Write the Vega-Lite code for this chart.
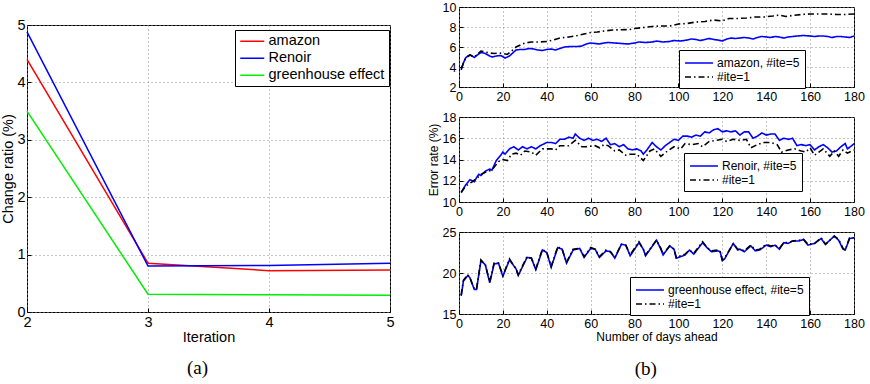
{
"$schema":"https://vega.github.io/schema/vega-lite/v6.json",
"padding":{"left":0,"top":0,"right":0,"bottom":0},
"spacing":31,
"datasets":{
"ratio":[
{"series":"amazon","iter":2,"value":4.4},{"series":"amazon","iter":3,"value":0.85},{"series":"amazon","iter":4,"value":0.72},{"series":"amazon","iter":5,"value":0.73},
{"series":"Renoir","iter":2,"value":4.88},{"series":"Renoir","iter":3,"value":0.8},{"series":"Renoir","iter":4,"value":0.81},{"series":"Renoir","iter":5,"value":0.85},
{"series":"greenhouse effect","iter":2,"value":3.5},{"series":"greenhouse effect","iter":3,"value":0.31},{"series":"greenhouse effect","iter":4,"value":0.3},{"series":"greenhouse effect","iter":5,"value":0.29}
],
"amazon":[
{"series":"amazon, #ite=5","day":1,"value":3.7},{"series":"amazon, #ite=5","day":2,"value":4.4},{"series":"amazon, #ite=5","day":3,"value":4.9},{"series":"amazon, #ite=5","day":4,"value":5.1},{"series":"amazon, #ite=5","day":5,"value":5.2},{"series":"amazon, #ite=5","day":6,"value":5.1},{"series":"amazon, #ite=5","day":7,"value":4.95},{"series":"amazon, #ite=5","day":8,"value":5.15},{"series":"amazon, #ite=5","day":10,"value":5.45},{"series":"amazon, #ite=5","day":12,"value":5.35},{"series":"amazon, #ite=5","day":14,"value":5.1},{"series":"amazon, #ite=5","day":15,"value":5.0},{"series":"amazon, #ite=5","day":17,"value":5.1},{"series":"amazon, #ite=5","day":19,"value":5.15},{"series":"amazon, #ite=5","day":21,"value":4.9},{"series":"amazon, #ite=5","day":23,"value":5.1},{"series":"amazon, #ite=5","day":25,"value":5.5},{"series":"amazon, #ite=5","day":26,"value":5.7},{"series":"amazon, #ite=5","day":28,"value":5.75},{"series":"amazon, #ite=5","day":30,"value":5.75},{"series":"amazon, #ite=5","day":32,"value":5.85},{"series":"amazon, #ite=5","day":34,"value":5.8},{"series":"amazon, #ite=5","day":36,"value":5.7},{"series":"amazon, #ite=5","day":38,"value":5.65},{"series":"amazon, #ite=5","day":40,"value":5.75},{"series":"amazon, #ite=5","day":42,"value":5.8},{"series":"amazon, #ite=5","day":44,"value":5.7},{"series":"amazon, #ite=5","day":46,"value":5.85},{"series":"amazon, #ite=5","day":48,"value":6.0},{"series":"amazon, #ite=5","day":51,"value":6.05},{"series":"amazon, #ite=5","day":54,"value":6.05},{"series":"amazon, #ite=5","day":56,"value":6.1},{"series":"amazon, #ite=5","day":58,"value":6.3},{"series":"amazon, #ite=5","day":60,"value":6.4},{"series":"amazon, #ite=5","day":62,"value":6.35},{"series":"amazon, #ite=5","day":64,"value":6.3},{"series":"amazon, #ite=5","day":66,"value":6.4},{"series":"amazon, #ite=5","day":68,"value":6.45},{"series":"amazon, #ite=5","day":71,"value":6.4},{"series":"amazon, #ite=5","day":74,"value":6.35},{"series":"amazon, #ite=5","day":77,"value":6.3},{"series":"amazon, #ite=5","day":80,"value":6.4},{"series":"amazon, #ite=5","day":82,"value":6.5},{"series":"amazon, #ite=5","day":85,"value":6.45},{"series":"amazon, #ite=5","day":88,"value":6.5},{"series":"amazon, #ite=5","day":90,"value":6.6},{"series":"amazon, #ite=5","day":93,"value":6.5},{"series":"amazon, #ite=5","day":96,"value":6.55},{"series":"amazon, #ite=5","day":98,"value":6.65},{"series":"amazon, #ite=5","day":101,"value":6.6},{"series":"amazon, #ite=5","day":104,"value":6.7},{"series":"amazon, #ite=5","day":106,"value":6.8},{"series":"amazon, #ite=5","day":108,"value":6.75},{"series":"amazon, #ite=5","day":110,"value":6.65},{"series":"amazon, #ite=5","day":112,"value":6.75},{"series":"amazon, #ite=5","day":114,"value":6.85},{"series":"amazon, #ite=5","day":116,"value":6.75},{"series":"amazon, #ite=5","day":118,"value":6.7},{"series":"amazon, #ite=5","day":120,"value":6.6},{"series":"amazon, #ite=5","day":122,"value":6.8},{"series":"amazon, #ite=5","day":124,"value":6.9},{"series":"amazon, #ite=5","day":126,"value":6.85},{"series":"amazon, #ite=5","day":128,"value":6.9},{"series":"amazon, #ite=5","day":130,"value":6.95},{"series":"amazon, #ite=5","day":132,"value":6.9},{"series":"amazon, #ite=5","day":134,"value":6.8},{"series":"amazon, #ite=5","day":136,"value":6.95},{"series":"amazon, #ite=5","day":138,"value":7.05},{"series":"amazon, #ite=5","day":140,"value":7.0},{"series":"amazon, #ite=5","day":142,"value":6.95},{"series":"amazon, #ite=5","day":144,"value":7.05},{"series":"amazon, #ite=5","day":146,"value":7.0},{"series":"amazon, #ite=5","day":148,"value":6.9},{"series":"amazon, #ite=5","day":150,"value":7.0},{"series":"amazon, #ite=5","day":152,"value":7.05},{"series":"amazon, #ite=5","day":154,"value":7.1},{"series":"amazon, #ite=5","day":157,"value":7.15},{"series":"amazon, #ite=5","day":160,"value":7.1},{"series":"amazon, #ite=5","day":162,"value":7.05},{"series":"amazon, #ite=5","day":164,"value":7.1},{"series":"amazon, #ite=5","day":166,"value":7.1},{"series":"amazon, #ite=5","day":168,"value":7.05},{"series":"amazon, #ite=5","day":170,"value":6.95},{"series":"amazon, #ite=5","day":172,"value":7.05},{"series":"amazon, #ite=5","day":174,"value":7.05},{"series":"amazon, #ite=5","day":176,"value":7.0},{"series":"amazon, #ite=5","day":178,"value":6.95},{"series":"amazon, #ite=5","day":180,"value":7.1},
{"series":"#ite=1","day":1,"value":3.85},{"series":"#ite=1","day":3,"value":4.9},{"series":"#ite=1","day":5,"value":5.2},{"series":"#ite=1","day":7,"value":5.0},{"series":"#ite=1","day":9,"value":5.4},{"series":"#ite=1","day":10,"value":5.6},{"series":"#ite=1","day":12,"value":5.5},{"series":"#ite=1","day":14,"value":5.4},{"series":"#ite=1","day":16,"value":5.35},{"series":"#ite=1","day":18,"value":5.4},{"series":"#ite=1","day":20,"value":5.35},{"series":"#ite=1","day":22,"value":5.25},{"series":"#ite=1","day":24,"value":5.6},{"series":"#ite=1","day":26,"value":6.0},{"series":"#ite=1","day":28,"value":6.2},{"series":"#ite=1","day":30,"value":6.4},{"series":"#ite=1","day":33,"value":6.5},{"series":"#ite=1","day":36,"value":6.5},{"series":"#ite=1","day":40,"value":6.55},{"series":"#ite=1","day":43,"value":6.7},{"series":"#ite=1","day":46,"value":6.9},{"series":"#ite=1","day":50,"value":7.0},{"series":"#ite=1","day":54,"value":7.15},{"series":"#ite=1","day":57,"value":7.3},{"series":"#ite=1","day":60,"value":7.45},{"series":"#ite=1","day":63,"value":7.5},{"series":"#ite=1","day":66,"value":7.6},{"series":"#ite=1","day":70,"value":7.7},{"series":"#ite=1","day":74,"value":7.72},{"series":"#ite=1","day":78,"value":7.75},{"series":"#ite=1","day":80,"value":7.85},{"series":"#ite=1","day":84,"value":7.95},{"series":"#ite=1","day":88,"value":8.05},{"series":"#ite=1","day":92,"value":8.1},{"series":"#ite=1","day":96,"value":8.1},{"series":"#ite=1","day":100,"value":8.3},{"series":"#ite=1","day":104,"value":8.35},{"series":"#ite=1","day":108,"value":8.5},{"series":"#ite=1","day":112,"value":8.55},{"series":"#ite=1","day":116,"value":8.7},{"series":"#ite=1","day":120,"value":8.6},{"series":"#ite=1","day":123,"value":8.85},{"series":"#ite=1","day":127,"value":8.85},{"series":"#ite=1","day":131,"value":8.9},{"series":"#ite=1","day":135,"value":9.0},{"series":"#ite=1","day":139,"value":9.0},{"series":"#ite=1","day":143,"value":9.1},{"series":"#ite=1","day":146,"value":9.2},{"series":"#ite=1","day":149,"value":9.05},{"series":"#ite=1","day":152,"value":9.15},{"series":"#ite=1","day":156,"value":9.25},{"series":"#ite=1","day":160,"value":9.3},{"series":"#ite=1","day":164,"value":9.3},{"series":"#ite=1","day":168,"value":9.3},{"series":"#ite=1","day":172,"value":9.25},{"series":"#ite=1","day":176,"value":9.25},{"series":"#ite=1","day":180,"value":9.3}
],
"renoir":[
{"series":"Renoir, #ite=5","day":1,"value":10.9},{"series":"Renoir, #ite=5","day":3,"value":11.6},{"series":"Renoir, #ite=5","day":5,"value":12.1},{"series":"Renoir, #ite=5","day":6,"value":12.0},{"series":"Renoir, #ite=5","day":7,"value":11.9},{"series":"Renoir, #ite=5","day":8,"value":12.3},{"series":"Renoir, #ite=5","day":9,"value":12.6},{"series":"Renoir, #ite=5","day":10,"value":12.5},{"series":"Renoir, #ite=5","day":12,"value":12.9},{"series":"Renoir, #ite=5","day":14,"value":13.1},{"series":"Renoir, #ite=5","day":15,"value":13.0},{"series":"Renoir, #ite=5","day":17,"value":13.9},{"series":"Renoir, #ite=5","day":19,"value":14.4},{"series":"Renoir, #ite=5","day":20,"value":14.7},{"series":"Renoir, #ite=5","day":21,"value":14.5},{"series":"Renoir, #ite=5","day":23,"value":15.0},{"series":"Renoir, #ite=5","day":25,"value":15.2},{"series":"Renoir, #ite=5","day":27,"value":14.9},{"series":"Renoir, #ite=5","day":29,"value":15.2},{"series":"Renoir, #ite=5","day":31,"value":15.0},{"series":"Renoir, #ite=5","day":33,"value":15.2},{"series":"Renoir, #ite=5","day":35,"value":15.0},{"series":"Renoir, #ite=5","day":37,"value":15.3},{"series":"Renoir, #ite=5","day":40,"value":15.6},{"series":"Renoir, #ite=5","day":42,"value":15.6},{"series":"Renoir, #ite=5","day":44,"value":15.5},{"series":"Renoir, #ite=5","day":46,"value":15.9},{"series":"Renoir, #ite=5","day":48,"value":15.9},{"series":"Renoir, #ite=5","day":50,"value":16.1},{"series":"Renoir, #ite=5","day":52,"value":16.0},{"series":"Renoir, #ite=5","day":53,"value":16.4},{"series":"Renoir, #ite=5","day":55,"value":16.0},{"series":"Renoir, #ite=5","day":57,"value":15.8},{"series":"Renoir, #ite=5","day":59,"value":16.0},{"series":"Renoir, #ite=5","day":61,"value":15.8},{"series":"Renoir, #ite=5","day":63,"value":15.9},{"series":"Renoir, #ite=5","day":65,"value":15.7},{"series":"Renoir, #ite=5","day":67,"value":16.0},{"series":"Renoir, #ite=5","day":69,"value":15.4},{"series":"Renoir, #ite=5","day":71,"value":15.5},{"series":"Renoir, #ite=5","day":73,"value":15.2},{"series":"Renoir, #ite=5","day":75,"value":15.4},{"series":"Renoir, #ite=5","day":77,"value":15.0},{"series":"Renoir, #ite=5","day":79,"value":14.9},{"series":"Renoir, #ite=5","day":81,"value":15.0},{"series":"Renoir, #ite=5","day":83,"value":14.8},{"series":"Renoir, #ite=5","day":84,"value":14.5},{"series":"Renoir, #ite=5","day":86,"value":15.0},{"series":"Renoir, #ite=5","day":88,"value":15.6},{"series":"Renoir, #ite=5","day":90,"value":15.2},{"series":"Renoir, #ite=5","day":92,"value":14.9},{"series":"Renoir, #ite=5","day":94,"value":15.3},{"series":"Renoir, #ite=5","day":96,"value":15.6},{"series":"Renoir, #ite=5","day":98,"value":15.9},{"series":"Renoir, #ite=5","day":100,"value":15.8},{"series":"Renoir, #ite=5","day":102,"value":16.2},{"series":"Renoir, #ite=5","day":104,"value":16.2},{"series":"Renoir, #ite=5","day":106,"value":16.1},{"series":"Renoir, #ite=5","day":108,"value":16.3},{"series":"Renoir, #ite=5","day":110,"value":16.2},{"series":"Renoir, #ite=5","day":112,"value":16.6},{"series":"Renoir, #ite=5","day":114,"value":16.5},{"series":"Renoir, #ite=5","day":116,"value":16.8},{"series":"Renoir, #ite=5","day":118,"value":16.9},{"series":"Renoir, #ite=5","day":120,"value":16.6},{"series":"Renoir, #ite=5","day":122,"value":16.7},{"series":"Renoir, #ite=5","day":124,"value":16.6},{"series":"Renoir, #ite=5","day":126,"value":16.7},{"series":"Renoir, #ite=5","day":128,"value":16.3},{"series":"Renoir, #ite=5","day":130,"value":16.6},{"series":"Renoir, #ite=5","day":132,"value":16.6},{"series":"Renoir, #ite=5","day":134,"value":16.0},{"series":"Renoir, #ite=5","day":136,"value":16.2},{"series":"Renoir, #ite=5","day":138,"value":16.5},{"series":"Renoir, #ite=5","day":140,"value":16.3},{"series":"Renoir, #ite=5","day":142,"value":16.4},{"series":"Renoir, #ite=5","day":144,"value":16.4},{"series":"Renoir, #ite=5","day":146,"value":15.8},{"series":"Renoir, #ite=5","day":148,"value":16.0},{"series":"Renoir, #ite=5","day":150,"value":15.9},{"series":"Renoir, #ite=5","day":152,"value":16.0},{"series":"Renoir, #ite=5","day":154,"value":15.3},{"series":"Renoir, #ite=5","day":156,"value":15.4},{"series":"Renoir, #ite=5","day":158,"value":15.3},{"series":"Renoir, #ite=5","day":160,"value":15.4},{"series":"Renoir, #ite=5","day":162,"value":14.9},{"series":"Renoir, #ite=5","day":164,"value":15.2},{"series":"Renoir, #ite=5","day":166,"value":15.4},{"series":"Renoir, #ite=5","day":168,"value":15.1},{"series":"Renoir, #ite=5","day":170,"value":14.7},{"series":"Renoir, #ite=5","day":172,"value":14.8},{"series":"Renoir, #ite=5","day":174,"value":15.2},{"series":"Renoir, #ite=5","day":176,"value":15.5},{"series":"Renoir, #ite=5","day":177,"value":15.0},{"series":"Renoir, #ite=5","day":179,"value":15.3},{"series":"Renoir, #ite=5","day":180,"value":15.5},
{"series":"#ite=1","day":1,"value":10.9},{"series":"#ite=1","day":3,"value":11.5},{"series":"#ite=1","day":6,"value":11.9},{"series":"#ite=1","day":8,"value":12.2},{"series":"#ite=1","day":10,"value":12.6},{"series":"#ite=1","day":12,"value":12.8},{"series":"#ite=1","day":15,"value":13.0},{"series":"#ite=1","day":18,"value":13.8},{"series":"#ite=1","day":20,"value":14.0},{"series":"#ite=1","day":22,"value":13.9},{"series":"#ite=1","day":24,"value":14.5},{"series":"#ite=1","day":26,"value":14.6},{"series":"#ite=1","day":28,"value":14.4},{"series":"#ite=1","day":30,"value":14.8},{"series":"#ite=1","day":33,"value":14.7},{"series":"#ite=1","day":35,"value":14.4},{"series":"#ite=1","day":38,"value":15.0},{"series":"#ite=1","day":42,"value":15.0},{"series":"#ite=1","day":44,"value":14.9},{"series":"#ite=1","day":46,"value":15.3},{"series":"#ite=1","day":50,"value":15.3},{"series":"#ite=1","day":53,"value":15.8},{"series":"#ite=1","day":56,"value":15.2},{"series":"#ite=1","day":58,"value":15.2},{"series":"#ite=1","day":62,"value":15.3},{"series":"#ite=1","day":64,"value":15.1},{"series":"#ite=1","day":66,"value":15.4},{"series":"#ite=1","day":68,"value":15.3},{"series":"#ite=1","day":71,"value":14.8},{"series":"#ite=1","day":73,"value":14.9},{"series":"#ite=1","day":76,"value":14.4},{"series":"#ite=1","day":78,"value":14.5},{"series":"#ite=1","day":81,"value":14.5},{"series":"#ite=1","day":84,"value":13.9},{"series":"#ite=1","day":87,"value":14.8},{"series":"#ite=1","day":89,"value":15.0},{"series":"#ite=1","day":92,"value":14.3},{"series":"#ite=1","day":95,"value":14.8},{"series":"#ite=1","day":98,"value":15.2},{"series":"#ite=1","day":101,"value":15.0},{"series":"#ite=1","day":103,"value":15.5},{"series":"#ite=1","day":106,"value":15.4},{"series":"#ite=1","day":109,"value":15.5},{"series":"#ite=1","day":111,"value":15.2},{"series":"#ite=1","day":114,"value":15.7},{"series":"#ite=1","day":117,"value":15.8},{"series":"#ite=1","day":120,"value":15.9},{"series":"#ite=1","day":122,"value":15.7},{"series":"#ite=1","day":125,"value":15.9},{"series":"#ite=1","day":128,"value":15.8},{"series":"#ite=1","day":131,"value":15.9},{"series":"#ite=1","day":133,"value":15.1},{"series":"#ite=1","day":136,"value":15.4},{"series":"#ite=1","day":139,"value":15.6},{"series":"#ite=1","day":142,"value":15.6},{"series":"#ite=1","day":145,"value":15.4},{"series":"#ite=1","day":147,"value":14.7},{"series":"#ite=1","day":150,"value":14.9},{"series":"#ite=1","day":153,"value":15.0},{"series":"#ite=1","day":156,"value":14.8},{"series":"#ite=1","day":158,"value":14.7},{"series":"#ite=1","day":160,"value":15.1},{"series":"#ite=1","day":162,"value":14.4},{"series":"#ite=1","day":164,"value":14.7},{"series":"#ite=1","day":166,"value":15.0},{"series":"#ite=1","day":169,"value":14.3},{"series":"#ite=1","day":171,"value":14.8},{"series":"#ite=1","day":173,"value":14.3},{"series":"#ite=1","day":175,"value":14.9},{"series":"#ite=1","day":177,"value":14.6},{"series":"#ite=1","day":180,"value":14.9}
],
"greenhouse":[
{"series":"greenhouse effect, #ite=5","day":1,"value":17.2},{"series":"greenhouse effect, #ite=5","day":2,"value":19.0},{"series":"greenhouse effect, #ite=5","day":4,"value":19.7},{"series":"greenhouse effect, #ite=5","day":5,"value":19.4},{"series":"greenhouse effect, #ite=5","day":7,"value":18.0},{"series":"greenhouse effect, #ite=5","day":8,"value":18.0},{"series":"greenhouse effect, #ite=5","day":10,"value":21.5},{"series":"greenhouse effect, #ite=5","day":12,"value":21.0},{"series":"greenhouse effect, #ite=5","day":14,"value":18.8},{"series":"greenhouse effect, #ite=5","day":16,"value":21.1},{"series":"greenhouse effect, #ite=5","day":18,"value":21.2},{"series":"greenhouse effect, #ite=5","day":20,"value":19.6},{"series":"greenhouse effect, #ite=5","day":23,"value":21.6},{"series":"greenhouse effect, #ite=5","day":26,"value":20.5},{"series":"greenhouse effect, #ite=5","day":27,"value":19.7},{"series":"greenhouse effect, #ite=5","day":31,"value":21.9},{"series":"greenhouse effect, #ite=5","day":33,"value":21.8},{"series":"greenhouse effect, #ite=5","day":35,"value":20.4},{"series":"greenhouse effect, #ite=5","day":38,"value":22.8},{"series":"greenhouse effect, #ite=5","day":40,"value":22.5},{"series":"greenhouse effect, #ite=5","day":42,"value":20.7},{"series":"greenhouse effect, #ite=5","day":45,"value":23.1},{"series":"greenhouse effect, #ite=5","day":47,"value":22.9},{"series":"greenhouse effect, #ite=5","day":49,"value":21.2},{"series":"greenhouse effect, #ite=5","day":52,"value":22.8},{"series":"greenhouse effect, #ite=5","day":55,"value":23.0},{"series":"greenhouse effect, #ite=5","day":57,"value":21.9},{"series":"greenhouse effect, #ite=5","day":60,"value":23.0},{"series":"greenhouse effect, #ite=5","day":62,"value":22.9},{"series":"greenhouse effect, #ite=5","day":64,"value":21.9},{"series":"greenhouse effect, #ite=5","day":67,"value":22.7},{"series":"greenhouse effect, #ite=5","day":69,"value":22.6},{"series":"greenhouse effect, #ite=5","day":71,"value":21.8},{"series":"greenhouse effect, #ite=5","day":74,"value":23.5},{"series":"greenhouse effect, #ite=5","day":76,"value":23.4},{"series":"greenhouse effect, #ite=5","day":78,"value":22.1},{"series":"greenhouse effect, #ite=5","day":82,"value":23.7},{"series":"greenhouse effect, #ite=5","day":84,"value":22.9},{"series":"greenhouse effect, #ite=5","day":85,"value":22.1},{"series":"greenhouse effect, #ite=5","day":90,"value":24.0},{"series":"greenhouse effect, #ite=5","day":92,"value":22.9},{"series":"greenhouse effect, #ite=5","day":93,"value":22.2},{"series":"greenhouse effect, #ite=5","day":96,"value":23.3},{"series":"greenhouse effect, #ite=5","day":98,"value":22.9},{"series":"greenhouse effect, #ite=5","day":99,"value":21.8},{"series":"greenhouse effect, #ite=5","day":103,"value":22.2},{"series":"greenhouse effect, #ite=5","day":105,"value":22.8},{"series":"greenhouse effect, #ite=5","day":107,"value":22.3},{"series":"greenhouse effect, #ite=5","day":111,"value":23.7},{"series":"greenhouse effect, #ite=5","day":113,"value":23.1},{"series":"greenhouse effect, #ite=5","day":115,"value":22.6},{"series":"greenhouse effect, #ite=5","day":118,"value":22.7},{"series":"greenhouse effect, #ite=5","day":119,"value":22.6},{"series":"greenhouse effect, #ite=5","day":120,"value":21.5},{"series":"greenhouse effect, #ite=5","day":121,"value":21.7},{"series":"greenhouse effect, #ite=5","day":125,"value":23.6},{"series":"greenhouse effect, #ite=5","day":127,"value":22.8},{"series":"greenhouse effect, #ite=5","day":128,"value":22.9},{"series":"greenhouse effect, #ite=5","day":130,"value":22.6},{"series":"greenhouse effect, #ite=5","day":133,"value":23.3},{"series":"greenhouse effect, #ite=5","day":135,"value":22.7},{"series":"greenhouse effect, #ite=5","day":137,"value":22.8},{"series":"greenhouse effect, #ite=5","day":140,"value":23.4},{"series":"greenhouse effect, #ite=5","day":142,"value":23.2},{"series":"greenhouse effect, #ite=5","day":144,"value":23.4},{"series":"greenhouse effect, #ite=5","day":146,"value":22.9},{"series":"greenhouse effect, #ite=5","day":148,"value":23.7},{"series":"greenhouse effect, #ite=5","day":150,"value":23.6},{"series":"greenhouse effect, #ite=5","day":152,"value":23.9},{"series":"greenhouse effect, #ite=5","day":155,"value":23.9},{"series":"greenhouse effect, #ite=5","day":157,"value":24.1},{"series":"greenhouse effect, #ite=5","day":159,"value":23.4},{"series":"greenhouse effect, #ite=5","day":162,"value":23.6},{"series":"greenhouse effect, #ite=5","day":165,"value":24.2},{"series":"greenhouse effect, #ite=5","day":167,"value":23.5},{"series":"greenhouse effect, #ite=5","day":171,"value":24.5},{"series":"greenhouse effect, #ite=5","day":173,"value":24.0},{"series":"greenhouse effect, #ite=5","day":175,"value":22.9},{"series":"greenhouse effect, #ite=5","day":176,"value":22.8},{"series":"greenhouse effect, #ite=5","day":178,"value":24.2},{"series":"greenhouse effect, #ite=5","day":180,"value":24.3},
{"series":"#ite=1","day":1,"value":17.3},{"series":"#ite=1","day":2,"value":19.1},{"series":"#ite=1","day":4,"value":19.8},{"series":"#ite=1","day":5,"value":19.4},{"series":"#ite=1","day":7,"value":18.0},{"series":"#ite=1","day":8,"value":18.1},{"series":"#ite=1","day":10,"value":21.6},{"series":"#ite=1","day":12,"value":21.0},{"series":"#ite=1","day":14,"value":18.9},{"series":"#ite=1","day":16,"value":21.2},{"series":"#ite=1","day":18,"value":21.2},{"series":"#ite=1","day":20,"value":19.7},{"series":"#ite=1","day":23,"value":21.7},{"series":"#ite=1","day":26,"value":20.5},{"series":"#ite=1","day":27,"value":19.8},{"series":"#ite=1","day":31,"value":22.0},{"series":"#ite=1","day":33,"value":21.8},{"series":"#ite=1","day":35,"value":20.5},{"series":"#ite=1","day":38,"value":22.9},{"series":"#ite=1","day":40,"value":22.5},{"series":"#ite=1","day":42,"value":20.8},{"series":"#ite=1","day":45,"value":23.2},{"series":"#ite=1","day":47,"value":22.9},{"series":"#ite=1","day":49,"value":21.3},{"series":"#ite=1","day":52,"value":22.9},{"series":"#ite=1","day":55,"value":23.0},{"series":"#ite=1","day":57,"value":22.0},{"series":"#ite=1","day":60,"value":23.1},{"series":"#ite=1","day":62,"value":22.9},{"series":"#ite=1","day":64,"value":22.0},{"series":"#ite=1","day":67,"value":22.8},{"series":"#ite=1","day":69,"value":22.6},{"series":"#ite=1","day":71,"value":21.9},{"series":"#ite=1","day":74,"value":23.5},{"series":"#ite=1","day":76,"value":23.4},{"series":"#ite=1","day":78,"value":22.2},{"series":"#ite=1","day":82,"value":23.8},{"series":"#ite=1","day":84,"value":22.9},{"series":"#ite=1","day":85,"value":22.2},{"series":"#ite=1","day":90,"value":24.0},{"series":"#ite=1","day":92,"value":23.0},{"series":"#ite=1","day":93,"value":22.3},{"series":"#ite=1","day":96,"value":23.3},{"series":"#ite=1","day":98,"value":22.9},{"series":"#ite=1","day":99,"value":21.9},{"series":"#ite=1","day":103,"value":22.3},{"series":"#ite=1","day":105,"value":22.8},{"series":"#ite=1","day":107,"value":22.4},{"series":"#ite=1","day":111,"value":23.8},{"series":"#ite=1","day":113,"value":23.1},{"series":"#ite=1","day":115,"value":22.7},{"series":"#ite=1","day":118,"value":22.8},{"series":"#ite=1","day":119,"value":22.6},{"series":"#ite=1","day":120,"value":21.6},{"series":"#ite=1","day":121,"value":21.8},{"series":"#ite=1","day":125,"value":23.6},{"series":"#ite=1","day":127,"value":22.9},{"series":"#ite=1","day":128,"value":22.9},{"series":"#ite=1","day":130,"value":22.7},{"series":"#ite=1","day":133,"value":23.4},{"series":"#ite=1","day":135,"value":22.8},{"series":"#ite=1","day":137,"value":22.9},{"series":"#ite=1","day":140,"value":23.5},{"series":"#ite=1","day":142,"value":23.3},{"series":"#ite=1","day":144,"value":23.4},{"series":"#ite=1","day":146,"value":23.0},{"series":"#ite=1","day":148,"value":23.7},{"series":"#ite=1","day":150,"value":23.7},{"series":"#ite=1","day":152,"value":23.9},{"series":"#ite=1","day":155,"value":24.0},{"series":"#ite=1","day":157,"value":24.1},{"series":"#ite=1","day":159,"value":23.5},{"series":"#ite=1","day":162,"value":23.6},{"series":"#ite=1","day":165,"value":24.3},{"series":"#ite=1","day":167,"value":23.5},{"series":"#ite=1","day":171,"value":24.5},{"series":"#ite=1","day":173,"value":24.1},{"series":"#ite=1","day":175,"value":23.0},{"series":"#ite=1","day":176,"value":22.8},{"series":"#ite=1","day":178,"value":24.3},{"series":"#ite=1","day":180,"value":24.3}
]
},
"hconcat":[
{
"title":{"text":"(a)","orient":"bottom","anchor":"middle","offset":14},
"spacing":0,
"vconcat":[
{
"width":363,"height":9,
"view":{"stroke":null},
"data":{"values":[{}]},
"mark":{"type":"rule","opacity":0},
"encoding":{}
},
{
"width":363,"height":287,
"data":{"name":"ratio"},
"mark":{"type":"line","strokeWidth":1.5},
"encoding":{
"x":{"field":"iter","type":"quantitative","scale":{"domain":[2,5],"nice":false},"axis":{"values":[2,3,4,5],"format":"d","title":"Iteration","labelFontSize":14.5,"titleFontSize":14.5,"labelPadding":7,"titlePadding":2}},
"y":{"field":"value","type":"quantitative","scale":{"domain":[0,5],"nice":false},"axis":{"values":[0,1,2,3,4,5],"format":"d","title":"Change ratio (%)","labelFontSize":14.5,"titleFontSize":14.5,"titlePadding":1,"labelPadding":6}},
"color":{"field":"series","type":"nominal","scale":{"domain":["amazon","Renoir","greenhouse effect"],"range":["#ff0000","#0000ff","#00ee00"]},
"legend":{"title":null,"orient":"none","legendX":208,"legendY":23,"symbolSize":144,"symbolStrokeWidth":1.5,"labelFontSize":14.5,"labelOffset":15,"padding":4,"rowPadding":2}}
}
}
]
},
{
"title":{"text":"(b)","orient":"bottom","anchor":"middle","offset":17},
"spacing":7,
"resolve":{"scale":{"color":"independent","strokeDash":"independent","y":"independent"},"legend":{"color":"independent","strokeDash":"independent"}},
"vconcat":[
{
"width":395,"height":80,
"data":{"name":"amazon"},
"mark":{"type":"line","strokeWidth":1.6},
"encoding":{
"x":{"field":"day","type":"quantitative","scale":{"domain":[0,180],"nice":false},"axis":{"values":[0,20,40,60,80,100,120,140,160,180],"title":null}},
"y":{"field":"value","type":"quantitative","scale":{"domain":[2,10],"nice":false},"axis":{"values":[2,4,6,8,10],"title":null}},
"color":{"field":"series","type":"nominal","sort":null,"scale":{"domain":["amazon, #ite=5","#ite=1"],"range":["#0000ff","#000000"]},"legend":{"title":null,"orient":"none","legendX":220,"legendY":43}},
"strokeDash":{"field":"series","type":"nominal","sort":null,"scale":{"domain":["amazon, #ite=5","#ite=1"],"range":[[1,0],[6,3,1.5,3]]},"legend":{"title":null,"orient":"none","legendX":220,"legendY":43}}
}
},
{
"width":395,"height":85,
"data":{"name":"renoir"},
"mark":{"type":"line","strokeWidth":1.6},
"encoding":{
"x":{"field":"day","type":"quantitative","scale":{"domain":[0,180],"nice":false},"axis":{"values":[0,20,40,60,80,100,120,140,160,180],"title":null}},
"y":{"field":"value","type":"quantitative","scale":{"domain":[10,18],"nice":false},"axis":{"values":[10,12,14,16,18],"title":"Error rate (%)","titlePadding":2}},
"color":{"field":"series","type":"nominal","sort":null,"scale":{"domain":["Renoir, #ite=5","#ite=1"],"range":["#0000ff","#000000"]},"legend":{"title":null,"orient":"none","legendX":225,"legendY":36}},
"strokeDash":{"field":"series","type":"nominal","sort":null,"scale":{"domain":["Renoir, #ite=5","#ite=1"],"range":[[1,0],[6,3,1.5,3]]},"legend":{"title":null,"orient":"none","legendX":225,"legendY":36}}
}
},
{
"width":395,"height":82,
"data":{"name":"greenhouse"},
"mark":{"type":"line","strokeWidth":1.6},
"encoding":{
"x":{"field":"day","type":"quantitative","scale":{"domain":[0,180],"nice":false},"axis":{"values":[0,20,40,60,80,100,120,140,160,180],"title":"Number of days ahead","titlePadding":2}},
"y":{"field":"value","type":"quantitative","scale":{"domain":[15,25],"nice":false},"axis":{"values":[15,20,25],"title":null}},
"color":{"field":"series","type":"nominal","sort":null,"scale":{"domain":["greenhouse effect, #ite=5","#ite=1"],"range":["#0000ff","#000000"]},"legend":{"title":null,"orient":"none","legendX":171,"legendY":45}},
"strokeDash":{"field":"series","type":"nominal","sort":null,"scale":{"domain":["greenhouse effect, #ite=5","#ite=1"],"range":[[1,0],[6,3,1.5,3]]},"legend":{"title":null,"orient":"none","legendX":171,"legendY":45}}
}
}
]
}
],
"config":{
"font":"Liberation Sans",
"view":{"stroke":"black","strokeWidth":1},
"axis":{"domain":false,"grid":true,"gridColor":"#8a8a8a","gridDash":[1,3],"gridWidth":1,"ticks":true,"tickSize":-4,"tickColor":"black","labelPadding":7,"labelFont":"Liberation Sans","titleFont":"Liberation Sans","labelColor":"black","titleColor":"black","titleFontWeight":"normal","labelFontSize":12.5,"titleFontSize":12,"titlePadding":3,"labelFlush":false,"labelOverlap":false},
"legend":{"symbolType":"M-1,0H3","symbolSize":196,"symbolStrokeWidth":1.6,"labelFontSize":12,"labelFont":"Liberation Sans","labelColor":"black","labelOffset":17,"padding":5,"rowPadding":0,"fillColor":"white","strokeColor":"black","labelLimit":300},
"title":{"font":"Liberation Serif","fontWeight":"normal","fontSize":19,"color":"black"}
}
}
